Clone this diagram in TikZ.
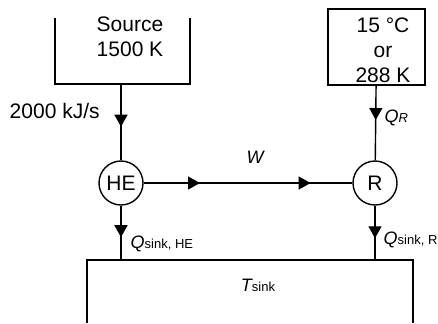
\documentclass[tikz,border=0pt]{standalone}
\usepackage{fontspec}
\setmainfont{Liberation Sans}
\usetikzlibrary{arrows.meta,decorations.markings}

\newcommand{\subtxt}[1]{{\upshape\fontsize{6.5}{7}\selectfont #1}}

\tikzset{
  engine/.style={circle, draw, minimum size=22pt, inner sep=0pt},
  sym/.style={font=\fontsize{9}{10}\selectfont\itshape},
  flow/.style={postaction={decorate},
    decoration={markings, mark=at position #1 with {\arrow{Triangle[length=6pt,width=6.5pt]}}}},
  flowtwo/.style 2 args={postaction={decorate},
    decoration={markings,
      mark=at position #1 with {\arrow{Triangle[length=6pt,width=6.5pt]}},
      mark=at position #2 with {\arrow{Triangle[length=6pt,width=6.5pt]}}}},
}

\begin{document}
\begin{tikzpicture}[x=0.5pt, y=-0.5pt, line width=0.7pt, font=\fontsize{10.5}{12.5}\selectfont]
    \useasboundingbox (0,0) rectangle (438,323);

    % hot reservoir (open at the top)
    \draw (55,18) -- (55,84) -- (190,84) -- (190,18);
    \node[align=center] (src) at (130,37) {Source\\1500 K};
    \coordinate (srcout) at (121,84);

    % surroundings
    \node[draw, minimum width=48.5pt, minimum height=38pt, inner sep=0pt] (amb) at (376.5,47) {};
    \node[align=center] (ambtxt) at (383,50) {15 °C\\or\\288 K};

    % heat engine and refrigerator
    \node[engine] (he) at (121,183) {HE};
    \node[engine] (r) at (375,183) {R};

    % sink (open at the bottom)
    \draw (87,323) -- (87,260) -- (413,260) -- (413,323);
    \coordinate (sinkhe) at (121,260);
    \coordinate (sinkr) at (375,260);
    \node[sym] (tsink) at (258,285) {T\subtxt{sink}};

    \draw[flow=0.56] (srcout) -- (he);
    \draw[flowtwo={0.27}{0.8}] (he) -- (r);
    \draw[flow=0.46] (amb) -- (r);
    \draw[flow=0.58] (he) -- (sinkhe);
    \draw[flow=0.6] (r) -- (sinkr);

    \node[left] (rate) at (107,111) {2000 kJ/s};
    \node[sym] (w) at (255,157) {W};
    \node[sym, right, inner sep=0pt] (qr) at (384,118) {Q\subtxt{\itshape R}};
    \node[sym, right, inner sep=0pt] (qhe) at (130,244) {Q\subtxt{sink, HE}};
    \node[sym, right, inner sep=0pt] (qrs) at (383,240) {Q\subtxt{sink, R}};
\end{tikzpicture}
\end{document}
